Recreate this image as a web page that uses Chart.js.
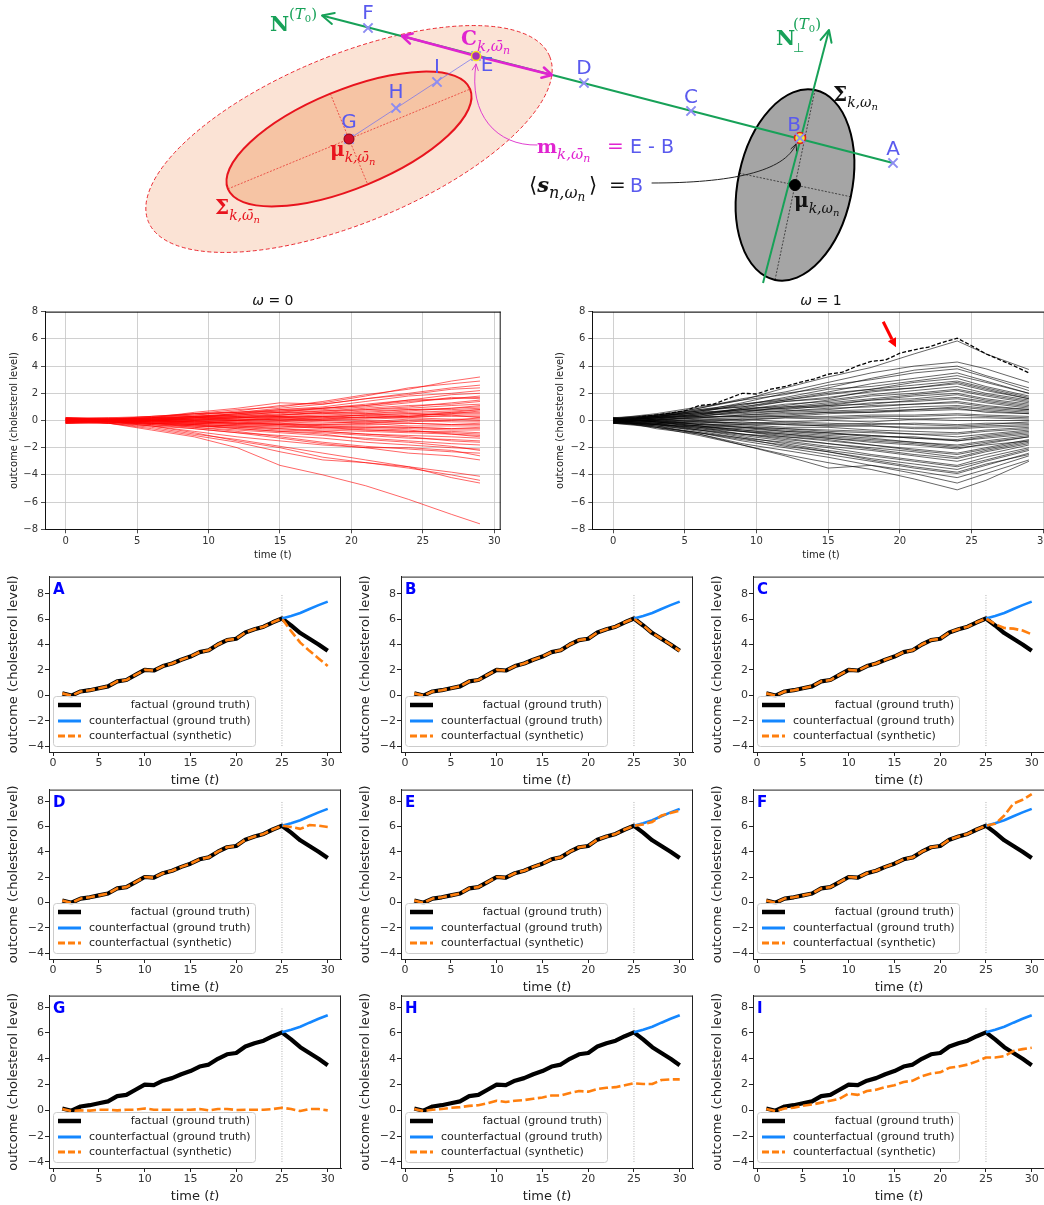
<!DOCTYPE html>
<html>
<head>
<meta charset="utf-8">
<script src="https://cdn.jsdelivr.net/npm/chart.js@4.4.1/dist/chart.umd.min.js"></script>
<style>
  html, body { margin: 0; padding: 0; background: #fff; overflow: hidden; width: 1044px; height: 1205px; }
  canvas { position: absolute; }
</style>
</head>
<body>
<script>
// ---------- top diagram (coordinates in diagram units, y grows downwards) ----------
const pointNames = ['A', 'B', 'C', 'D', 'E', 'F', 'G', 'H', 'I'];
const pointX = [893, 800, 691, 584, 476, 368, 349, 396, 437];
const pointY = [163, 138, 111, 83, 56, 28, 139, 108, 82];
const muX = [795];
const muY = [185];

const ellipseCx = [349, 349, 795];
const ellipseCy = [139, 139, 185];
const ellipseA = [217, 131, 97];
const ellipseB = [84, 49, 57];
const ellipseAngle = [-22.4, -22.4, -78.1];

const nLineX = [322, 893];
const nLineY = [15.5, 163];
const perpLineX = [763, 829];
const perpLineY = [283, 30];
const mArrowX = [402, 476, 552];
const mArrowY = [36, 56, 75];

// ---------- middle plots ----------
const midXTicks = [0, 5, 10, 15, 20, 25, 30];
const midYTicks = [-8, -6, -4, -2, 0, 2, 4, 6, 8];

const redT = [0, 3, 6, 9, 12, 15, 18, 21, 24, 27, 29];
const redLines = [
  [0.05, 0.1, 0.3, 0.5, 0.8, 1.0, 1.4, 1.9, 2.3, 2.9, 3.2],
  [-0.1, 0.05, 0.2, 0.4, 0.7, 1.1, 1.3, 1.8, 2.4, 2.7, 2.9],
  [0.15, 0.1, 0.2, 0.6, 0.9, 1.3, 1.2, 1.6, 2.0, 2.4, 2.6],
  [0.0, -0.05, 0.1, 0.3, 0.5, 0.8, 1.0, 1.4, 1.8, 2.0, 2.2],
  [-0.15, 0.1, 0.15, 0.3, 0.4, 0.6, 0.9, 1.1, 1.5, 1.6, 1.8],
  [0.2, 0.05, 0.2, 0.2, 0.5, 0.7, 0.8, 1.0, 1.3, 1.7, 1.6],
  [-0.05, 0.0, 0.1, 0.3, 0.3, 0.5, 0.7, 0.9, 1.1, 1.2, 1.4],
  [0.1, 0.1, 0.0, 0.2, 0.4, 0.4, 0.6, 0.8, 0.9, 1.1, 1.2],
  [-0.2, -0.1, 0.1, 0.2, 0.2, 0.4, 0.5, 0.6, 0.8, 0.9, 1.0],
  [0.1, 0.05, 0.2, 0.3, 0.5, 0.6, 0.5, 0.7, 0.8, 0.8, 0.9],
  [-0.1, 0.0, 0.05, 0.1, 0.2, 0.3, 0.4, 0.5, 0.6, 0.7, 0.8],
  [0.2, 0.1, 0.1, 0.0, 0.2, 0.3, 0.3, 0.4, 0.5, 0.6, 0.6],
  [0.0, -0.05, 0.0, 0.1, 0.1, 0.2, 0.3, 0.2, 0.4, 0.5, 0.5],
  [-0.15, 0.05, 0.1, 0.2, 0.3, 0.2, 0.3, 0.4, 0.5, 0.4, 0.4],
  [0.1, 0.0, -0.05, 0.0, 0.1, 0.1, 0.2, 0.2, 0.3, 0.3, 0.3],
  [-0.05, 0.05, 0.0, 0.05, 0.0, 0.1, 0.0, 0.1, 0.2, 0.1, 0.1],
  [0.15, -0.05, 0.05, -0.1, 0.0, -0.1, 0.1, 0.0, -0.1, 0.05, 0.0],
  [-0.1, 0.0, -0.1, 0.0, -0.1, 0.0, -0.1, -0.2, 0.0, -0.1, -0.1],
  [0.05, -0.1, 0.0, -0.1, -0.2, -0.1, -0.2, -0.1, -0.2, -0.3, -0.2],
  [-0.2, 0.0, -0.1, -0.2, -0.1, -0.3, -0.3, -0.2, -0.4, -0.4, -0.4],
  [0.1, -0.05, -0.1, -0.1, -0.2, -0.2, -0.4, -0.4, -0.5, -0.6, -0.5],
  [-0.05, 0.05, 0.0, -0.2, -0.3, -0.3, -0.4, -0.5, -0.5, -0.6, -0.6],
  [0.2, -0.1, -0.2, -0.2, -0.3, -0.4, -0.5, -0.5, -0.6, -0.7, -0.7],
  [-0.1, 0.0, -0.1, -0.3, -0.4, -0.4, -0.6, -0.7, -0.8, -0.8, -0.9],
  [0.05, -0.1, -0.2, -0.3, -0.4, -0.6, -0.7, -0.8, -0.9, -1.0, -1.1],
  [-0.15, 0.0, -0.2, -0.4, -0.5, -0.6, -0.8, -1.0, -1.1, -1.2, -1.3],
  [0.1, -0.1, -0.3, -0.4, -0.6, -0.8, -0.9, -1.1, -1.3, -1.4, -1.5],
  [0.0, -0.1, -0.2, -0.5, -0.7, -0.9, -1.1, -1.3, -1.5, -1.7, -1.8],
  [-0.2, -0.05, -0.3, -0.6, -0.9, -1.1, -1.3, -1.6, -1.8, -2.0, -2.1],
  [0.15, -0.1, -0.3, -0.5, -0.8, -1.2, -1.6, -1.9, -2.1, -2.3, -2.4],
  [-0.05, -0.1, -0.4, -0.8, -1.2, -1.5, -1.8, -2.0, -2.4, -2.6, -2.9],
  [0.1, -0.2, -0.5, -1.0, -1.4, -1.9, -2.4, -2.9, -3.4, -3.8, -4.1],
  [-0.1, -0.1, -0.4, -0.9, -1.5, -2.0, -2.7, -3.1, -3.5, -4.0, -4.4],
  [0.05, -0.2, -0.6, -1.1, -1.6, -2.3, -2.9, -3.1, -3.4, -4.2, -4.6],
  [0.0, -0.2, -0.7, -1.2, -2.0, -3.3, -4.0, -4.8, -5.8, -6.9, -7.6],
  [0.1, 0.15, 0.2, 0.3, 0.4, 0.6, 0.7, 0.8, 1.0, 1.3, 1.5],
  [-0.1, 0.0, 0.1, 0.1, 0.3, 0.4, 0.6, 0.5, 0.7, 0.9, 1.1],
  [0.2, 0.1, 0.0, 0.2, 0.2, 0.3, 0.2, 0.4, 0.3, 0.5, 0.7],
  [-0.2, -0.1, 0.0, 0.1, 0.0, 0.2, 0.1, 0.3, 0.2, 0.4, 0.2],
  [0.15, 0.0, -0.1, -0.1, -0.2, -0.2, -0.3, -0.3, -0.2, -0.3, -0.3],
  [-0.15, -0.2, -0.2, -0.3, -0.4, -0.5, -0.5, -0.7, -0.8, -0.9, -1.0],
  [0.05, 0.1, -0.1, -0.2, -0.2, -0.3, -0.5, -0.6, -0.7, -1.0, -1.2],
  [0.0, -0.1, -0.2, -0.4, -0.5, -0.7, -0.8, -1.0, -1.2, -1.5, -1.6],
  [0.2, 0.2, 0.3, 0.4, 0.6, 0.8, 0.9, 1.1, 1.4, 1.6, 1.7],
  [-0.05, 0.1, 0.2, 0.5, 0.6, 0.7, 0.9, 1.2, 1.5, 1.9, 2.0],
  [0.1, 0.0, -0.2, -0.3, -0.6, -0.8, -1.0, -1.4, -1.6, -1.9, -2.2],
  [-0.2, -0.2, -0.4, -0.6, -0.9, -1.3, -1.7, -2.0, -2.0, -2.2, -2.6],
  [0.05, 0.1, 0.3, 0.5, 0.6, 0.9, 1.2, 1.6, 1.9, 2.3, 2.4],
  [-0.1, 0.0, 0.0, -0.1, 0.0, 0.1, 0.0, -0.1, 0.1, 0.0, 0.2],
  [0.1, 0.2, 0.1, 0.2, 0.1, 0.0, 0.1, 0.2, 0.3, 0.6, 0.8]
];

const blackT = [0, 3, 6, 9, 12, 15, 18, 21, 24, 26, 29];
const blackLines = [
  [0, 0.3, 0.9, 1.5, 2.4, 3.2, 3.9, 4.9, 5.85, 4.9, 3.75],
  [0.1, 0.4, 0.9, 1.6, 2.1, 2.8, 3.5, 4.0, 4.3, 3.8, 2.8],
  [-0.1, 0.3, 0.7, 1.3, 2.0, 2.4, 3.1, 3.7, 4.0, 3.3, 2.4],
  [0.15, 0.5, 1.0, 1.5, 1.9, 2.6, 3.0, 3.5, 3.8, 3.2, 2.2],
  [0, 0.3, 0.6, 1.2, 1.6, 2.1, 2.7, 3.1, 3.5, 2.9, 2.0],
  [-0.15, 0.4, 0.7, 1.1, 1.7, 2.3, 2.5, 2.9, 3.3, 2.8, 2.0],
  [0.05, 0.2, 0.8, 1.0, 1.5, 2.0, 2.3, 2.8, 3.1, 2.5, 1.8],
  [0.2, 0.4, 0.5, 0.9, 1.4, 1.6, 2.2, 2.4, 2.8, 2.3, 1.6],
  [-0.05, 0.2, 0.6, 0.8, 1.1, 1.5, 1.9, 2.2, 2.5, 2.0, 1.5],
  [0.1, 0.3, 0.4, 0.9, 1.0, 1.3, 1.6, 1.9, 2.2, 1.8, 1.3],
  [-0.2, 0.1, 0.5, 0.6, 1.0, 1.1, 1.5, 1.8, 2.0, 1.6, 1.2],
  [0, 0.2, 0.4, 0.8, 0.9, 1.2, 1.5, 1.6, 1.9, 1.5, 1.1],
  [0.15, 0.3, 0.3, 0.7, 0.8, 1.1, 1.2, 1.5, 1.7, 1.4, 1.0],
  [-0.1, 0.1, 0.4, 0.5, 0.7, 0.8, 1.1, 1.2, 1.4, 1.1, 0.8],
  [0.05, 0.2, 0.2, 0.4, 0.6, 0.7, 0.8, 1.0, 1.1, 0.9, 0.7],
  [-0.15, 0.1, 0.2, 0.4, 0.5, 0.6, 0.7, 0.8, 0.9, 0.6, 0.5],
  [0.1, 0.0, 0.3, 0.3, 0.3, 0.5, 0.6, 0.7, 0.8, 0.7, 0.5],
  [0, 0.2, 0.1, 0.2, 0.3, 0.3, 0.4, 0.4, 0.5, 0.4, 0.3],
  [0.2, -0.1, 0.1, 0.0, 0.2, 0.1, 0.2, 0.1, 0.2, 0.2, 0.1],
  [-0.05, 0.1, -0.1, 0.1, -0.1, 0.0, -0.1, 0.1, 0.0, 0.0, 0.0],
  [0.1, -0.1, 0.0, -0.2, -0.1, -0.2, -0.3, -0.2, -0.3, -0.2, -0.2],
  [-0.2, -0.2, -0.1, -0.3, -0.3, -0.4, -0.4, -0.6, -0.6, -0.5, -0.4],
  [0, 0.0, -0.3, -0.3, -0.5, -0.5, -0.7, -0.8, -0.9, -0.7, -0.5],
  [0.15, -0.1, -0.3, -0.4, -0.6, -0.7, -0.8, -1.0, -1.0, -0.8, -0.6],
  [-0.1, -0.2, -0.2, -0.5, -0.6, -0.8, -0.9, -1.0, -1.2, -1.0, -0.7],
  [0.05, -0.1, -0.4, -0.5, -0.8, -0.9, -1.1, -1.3, -1.5, -1.2, -0.9],
  [-0.15, -0.3, -0.4, -0.7, -0.9, -1.1, -1.3, -1.6, -1.8, -1.5, -1.1],
  [0.1, -0.1, -0.4, -0.7, -1.0, -1.3, -1.5, -1.7, -2.0, -1.8, -1.5],
  [0, -0.2, -0.6, -0.8, -1.1, -1.3, -1.6, -1.8, -2.1, -1.7, -1.2],
  [-0.05, -0.3, -0.5, -1.0, -1.2, -1.4, -1.8, -2.1, -2.4, -2.0, -1.4],
  [0.2, -0.2, -0.7, -1.0, -1.4, -1.7, -2.0, -2.3, -2.7, -2.2, -1.6],
  [-0.1, -0.4, -0.7, -1.1, -1.5, -1.9, -2.2, -2.6, -3.0, -2.5, -1.8],
  [0.05, -0.3, -0.8, -1.3, -1.6, -2.0, -2.5, -2.9, -3.3, -2.7, -2.0],
  [-0.2, -0.4, -0.9, -1.4, -1.8, -2.3, -2.8, -3.2, -3.6, -3.0, -2.2],
  [0.1, -0.5, -0.9, -1.5, -2.0, -2.5, -3.0, -3.5, -3.9, -3.3, -2.4],
  [0, -0.4, -1.0, -1.7, -2.2, -2.7, -3.3, -3.7, -4.2, -3.6, -2.6],
  [-0.1, -0.5, -1.1, -1.8, -2.6, -3.5, -3.3, -3.9, -4.6, -3.9, -2.9],
  [0.05, -0.6, -1.0, -1.8, -2.5, -3.1, -3.6, -4.3, -5.1, -4.4, -3.0],
  [0.1, 0.4, 0.8, 1.2, 1.5, 1.9, 2.3, 2.6, 2.9, 2.4, 1.7],
  [-0.1, 0.2, 0.5, 0.8, 1.2, 1.4, 1.8, 2.0, 2.3, 1.9, 1.4],
  [0.15, 0.3, 0.6, 0.7, 0.9, 1.0, 1.3, 1.4, 1.6, 1.3, 0.9],
  [-0.15, 0.0, 0.2, 0.3, 0.4, 0.6, 0.6, 0.8, 1.0, 0.8, 0.6],
  [0.05, 0.1, 0.0, 0.1, 0.2, 0.2, 0.3, 0.3, 0.4, 0.3, 0.2],
  [0.1, -0.1, -0.2, -0.1, -0.3, -0.4, -0.4, -0.5, -0.5, -0.4, -0.3],
  [-0.2, -0.3, -0.5, -0.6, -0.8, -1.0, -1.1, -1.3, -1.4, -1.1, -0.8],
  [0.0, -0.2, -0.4, -0.8, -1.0, -1.2, -1.4, -1.6, -1.9, -1.6, -1.2],
  [0.2, -0.1, -0.5, -0.8, -1.2, -1.5, -1.8, -2.2, -2.5, -2.1, -1.5],
  [-0.1, -0.3, -0.6, -1.0, -1.3, -1.7, -2.1, -2.5, -2.8, -2.3, -1.7],
  [0.1, -0.3, -0.7, -1.2, -1.7, -2.2, -2.6, -3.0, -3.4, -2.9, -2.1],
  [-0.2, -0.5, -0.9, -1.3, -1.9, -2.3, -2.9, -3.4, -3.8, -3.2, -2.5],
  [0.0, 0.3, 0.7, 1.0, 1.4, 1.7, 2.1, 2.4, 2.7, 2.2, 1.6],
  [0.1, 0.2, 0.3, 0.6, 0.7, 0.9, 1.0, 1.2, 1.3, 1.0, 0.8],
  [-0.05, 0.0, -0.1, -0.2, -0.2, -0.3, -0.2, -0.3, -0.4, -0.3, -0.1],
  [0.15, 0.1, -0.3, -0.5, -0.7, -0.9, -1.2, -1.2, -1.5, -1.3, -1.0]
];
const arrowX = [18.84, 19.73];
const arrowY = [7.26, 5.38];

// ---------- small panels ----------
const panelLetters = ['A', 'B', 'C', 'D', 'E', 'F', 'G', 'H', 'I'];
const smallXTicks = [0, 5, 10, 15, 20, 25, 30];
const smallYTicks = [-4, -2, 0, 2, 4, 6, 8];
const smallT = [1, 2, 3, 4, 5, 6, 7, 8, 9, 10, 11, 12, 13, 14, 15, 16, 17, 18, 19, 20, 21, 22, 23, 24, 25, 26, 27, 28, 29, 30];
const factual = [0.15, -0.03, 0.3, 0.4, 0.55, 0.7, 1.1, 1.2, 1.6, 2.0, 1.95, 2.3, 2.5, 2.8, 3.05, 3.4, 3.55, 4.0, 4.35, 4.45, 4.95, 5.2, 5.4, 5.75, 6.05, 5.5, 4.9, 4.45, 4.0, 3.5];
const cfT = [25, 26, 27, 28, 29, 30];
const cfTrue = [6.05, 6.25, 6.48, 6.8, 7.1, 7.38];
const synthTailA = [6.05, 5.05, 4.15, 3.5, 2.9, 2.3];
const synthTailB = [6.05, 5.5, 4.9, 4.45, 4.0, 3.5];
const synthTailC = [6.05, 5.6, 5.3, 5.25, 5.1, 4.8];
const synthTailD = [6.05, 5.95, 5.8, 6.1, 6.05, 5.95];
const synthTailE = [6.05, 6.15, 6.35, 6.85, 7.05, 7.25];
const synthTailF = [6.05, 6.2, 6.85, 7.8, 8.1, 8.55];
const synthG = [0.1, -0.05, 0.0, -0.02, 0.05, 0.05, 0.0, 0.05, 0.05, 0.15, 0.05, 0.05, 0.05, 0.05, 0.05, 0.1, 0.0, 0.1, 0.1, 0.03, 0.05, 0.05, 0.05, 0.1, 0.2, 0.1, -0.05, 0.1, 0.1, 0.0];
const synthH = [0.1, -0.05, 0.05, 0.1, 0.2, 0.25, 0.35, 0.4, 0.55, 0.75, 0.65, 0.75, 0.8, 0.9, 1.0, 1.15, 1.15, 1.35, 1.5, 1.45, 1.65, 1.75, 1.8, 1.95, 2.1, 2.05, 2.05, 2.35, 2.4, 2.4];
const synthI = [0.1, -0.05, 0.15, 0.2, 0.35, 0.45, 0.6, 0.75, 0.9, 1.3, 1.2, 1.5, 1.6, 1.8, 1.95, 2.2, 2.3, 2.65, 2.85, 2.95, 3.3, 3.4, 3.55, 3.8, 4.1, 4.1, 4.2, 4.6, 4.75, 4.85];
const vlineX = [25, 25];
const vlineY = [-4, 8];

// ---------- colours ----------
const GREEN = '#17a158';
const MAGENTA = '#e024d0';
const LBLUE = '#5a5aee';
const RED = '#e8141e';
const CF_BLUE = '#1487ff';
const ORANGE = '#ff7f0e';

Chart.defaults.font.family = 'DejaVu Sans';
Chart.defaults.animation = false;
Chart.defaults.events = [];
Chart.defaults.layout.autoPadding = false;
Chart.defaults.plugins.legend.display = false;
Chart.defaults.plugins.tooltip.enabled = false;

function makeCanvas(left, top, w, h) {
  const c = document.createElement('canvas');
  c.width = w; c.height = h;
  c.style.left = left + 'px'; c.style.top = top + 'px';
  c.style.width = w + 'px'; c.style.height = h + 'px';
  document.body.appendChild(c);
  return c;
}

const xy = (xs, ys) => xs.map((v, i) => ({ x: v, y: ys[i] }));
const minus = v => (v < 0 ? '\u2212' + Math.abs(v) : '' + v);

function drawRuns(ctx, x, y, runs, align) {
  let total = 0;
  runs.forEach(r => { ctx.font = r[1]; total += ctx.measureText(r[0]).width; });
  if (align === 'center') x -= total / 2;
  runs.forEach(r => {
    ctx.font = r[1];
    ctx.fillStyle = r[2];
    ctx.fillText(r[0], x, y + (r[3] || 0));
    x += ctx.measureText(r[0]).width;
  });
}

function openHead(ctx, fx, fy, tx, ty, len, spread) {
  const ang = Math.atan2(ty - fy, tx - fx);
  ctx.beginPath();
  ctx.moveTo(tx - len * Math.cos(ang - spread), ty - len * Math.sin(ang - spread));
  ctx.lineTo(tx, ty);
  ctx.lineTo(tx - len * Math.cos(ang + spread), ty - len * Math.sin(ang + spread));
  ctx.stroke();
}

// ================= diagram =================
const diagramPlugin = {
  id: 'diagram',
  beforeDatasetsDraw(chart) {
    const { ctx, scales: { x, y } } = chart;
    const u = x.getPixelForValue(1) - x.getPixelForValue(0);
    const fills = ['#fbe3d5', '#f6c4a4', '#a5a5a5'];
    const strokes = [RED, RED, '#000'];
    const widths = [0.9, 2, 2];
    const dashes = [[4, 2.5], [], []];
    const axisColors = [null, 'rgba(230,30,30,0.85)', 'rgba(0,0,0,0.75)'];
    ellipseCx.forEach((cx, i) => {
      const px = x.getPixelForValue(cx), py = y.getPixelForValue(ellipseCy[i]);
      const rot = ellipseAngle[i] * Math.PI / 180;
      const a = ellipseA[i] * u, b = ellipseB[i] * u;
      ctx.save();
      ctx.beginPath();
      ctx.ellipse(px, py, a, b, rot, 0, 2 * Math.PI);
      ctx.fillStyle = fills[i];
      ctx.fill();
      ctx.setLineDash(dashes[i]);
      ctx.lineWidth = widths[i];
      ctx.strokeStyle = strokes[i];
      ctx.stroke();
      if (axisColors[i]) {
        ctx.setLineDash([2, 1.5]);
        ctx.lineWidth = 0.8;
        ctx.strokeStyle = axisColors[i];
        ctx.beginPath();
        ctx.moveTo(px - a * Math.cos(rot), py - a * Math.sin(rot));
        ctx.lineTo(px + a * Math.cos(rot), py + a * Math.sin(rot));
        ctx.moveTo(px + b * Math.sin(rot), py - b * Math.cos(rot));
        ctx.lineTo(px - b * Math.sin(rot), py + b * Math.cos(rot));
        ctx.stroke();
      }
      ctx.restore();
    });
  },
  afterDatasetsDraw(chart) {
    const { ctx, scales: { x, y } } = chart;
    const P = (vx, vy) => [x.getPixelForValue(vx), y.getPixelForValue(vy)];
    ctx.save();
    ctx.lineCap = 'round';
    ctx.lineJoin = 'round';

    // arrow heads
    ctx.strokeStyle = GREEN; ctx.lineWidth = 2;
    let a = P(nLineX[1], nLineY[1]), b = P(nLineX[0], nLineY[0]);
    openHead(ctx, a[0], a[1], b[0], b[1], 13, 0.45);
    a = P(perpLineX[0], perpLineY[0]); b = P(perpLineX[1], perpLineY[1]);
    openHead(ctx, a[0], a[1], b[0], b[1], 13, 0.45);
    ctx.strokeStyle = MAGENTA; ctx.lineWidth = 2.5;
    a = P(mArrowX[1], mArrowY[1]); b = P(mArrowX[0], mArrowY[0]);
    openHead(ctx, a[0], a[1], b[0], b[1], 11, 0.5);
    b = P(mArrowX[2], mArrowY[2]);
    openHead(ctx, a[0], a[1], b[0], b[1], 11, 0.5);

    // thin curved pointers
    ctx.lineWidth = 1;
    ctx.strokeStyle = '#e040d0';
    ctx.beginPath();
    ctx.moveTo(537, 145);
    ctx.bezierCurveTo(497, 146, 468, 115, 476, 64);
    ctx.stroke();
    openHead(ctx, 473, 90, 476, 64, 7, 0.45);
    ctx.strokeStyle = '#222';
    ctx.beginPath();
    ctx.moveTo(652, 183);
    ctx.bezierCurveTo(730, 183, 785, 172, 796, 144);
    ctx.stroke();
    openHead(ctx, 790, 160, 796, 144, 7, 0.45);

    // point letters
    const off = { A: [0, -13], B: [-6, -12], C: [0, -13], D: [0, -14], E: [11, 10], F: [0, -14], G: [0, -16], H: [0, -15], I: [0, -14] };
    ctx.font = '20px DejaVu Sans';
    ctx.fillStyle = LBLUE;
    ctx.textAlign = 'center';
    ctx.textBaseline = 'middle';
    pointNames.forEach((n, i) => {
      const p = P(pointX[i], pointY[i]);
      ctx.fillText(n, p[0] + off[n][0], p[1] + off[n][1]);
    });

    // math labels
    ctx.textAlign = 'left';
    ctx.textBaseline = 'alphabetic';
    const SB = 'bold 20px DejaVu Serif';
    const SI = 'italic 14px DejaVu Serif';
    const SS = 'italic 10px DejaVu Serif';
    const SUP = '15px DejaVu Serif';
    drawRuns(ctx, 270, 31, [['N', 'bold 21px DejaVu Serif', GREEN]]);
    drawRuns(ctx, 289, 19, [['(', SUP, GREEN], ['T', 'italic 15px DejaVu Serif', GREEN], ['0', '10px DejaVu Serif', GREEN, 3], [')', SUP, GREEN]]);
    drawRuns(ctx, 776, 45, [['N', 'bold 21px DejaVu Serif', GREEN]]);
    drawRuns(ctx, 793, 52, [['\u22A5', '13px DejaVu Sans', GREEN]]);
    drawRuns(ctx, 793, 29, [['(', SUP, GREEN], ['T', 'italic 15px DejaVu Serif', GREEN], ['0', '10px DejaVu Serif', GREEN, 3], [')', SUP, GREEN]]);

    drawRuns(ctx, 461, 45, [['C', SB, MAGENTA], ['k,\u03C9\u0304', 'italic 15px DejaVu Serif', MAGENTA, 6], ['n', 'italic 11px DejaVu Serif', MAGENTA, 9]]);
    drawRuns(ctx, 537, 153, [['m', 'bold 19px DejaVu Serif', MAGENTA], ['k,\u03C9\u0304', 'italic 15px DejaVu Serif', MAGENTA, 6], ['n', 'italic 11px DejaVu Serif', MAGENTA, 9]]);
    drawRuns(ctx, 607, 153, [['=', '20px DejaVu Serif', MAGENTA]]);
    drawRuns(ctx, 630, 153, [['E - B', '19px DejaVu Sans', LBLUE]]);

    drawRuns(ctx, 529, 192, [['\u27E8', '21px DejaVu Sans', '#111'], ['s', 'bold italic 21px DejaVu Serif', '#111'], ['n,\u03C9', 'italic 16px DejaVu Serif', '#111', 6], ['n', 'italic 12px DejaVu Serif', '#111', 9]]);
    drawRuns(ctx, 589, 192, [['\u27E9', '21px DejaVu Sans', '#111']]);
    drawRuns(ctx, 609, 192, [['=', '20px DejaVu Serif', '#111']]);
    drawRuns(ctx, 630, 192, [['B', '19px DejaVu Sans', LBLUE]]);

    drawRuns(ctx, 833, 101, [['\u03A3', SB, '#111'], ['k,\u03C9', SI, '#111', 6], ['n', SS, '#111', 9]]);
    drawRuns(ctx, 794, 207, [['\u03BC', SB, '#111'], ['k,\u03C9', SI, '#111', 6], ['n', SS, '#111', 9]]);
    drawRuns(ctx, 330, 156, [['\u03BC', SB, RED], ['k,\u03C9\u0304', SI, RED, 6], ['n', SS, RED, 9]]);
    drawRuns(ctx, 215, 214, [['\u03A3', SB, RED], ['k,\u03C9\u0304', SI, RED, 6], ['n', SS, RED, 9]]);
    ctx.restore();
  }
};

const idx = n => pointNames.indexOf(n);
new Chart(makeCanvas(0, 0, 1044, 290), {
  type: 'scatter',
  data: {
    datasets: [
      { data: [{ x: pointX[idx('G')], y: pointY[idx('G')] }], pointRadius: 5, backgroundColor: '#d4102c', borderColor: '#8a0010', borderWidth: 1 },
      { data: [{ x: pointX[idx('E')], y: pointY[idx('E')] }], pointRadius: 4.5, backgroundColor: '#a431b8', borderColor: '#f2e21a', borderWidth: 1.5 },
      { data: xy(pointX, pointY), pointStyle: 'crossRot', pointRadius: 6.5, borderColor: '#8c8cf2', borderWidth: 2 },
      { data: [{ x: pointX[idx('B')], y: pointY[idx('B')] }], pointRadius: 5.5, backgroundColor: '#f2e43a', borderColor: '#e0201a', borderWidth: 1.5 },
      { data: xy(muX, muY), pointRadius: 5.5, backgroundColor: '#000', borderColor: '#000' },
      { data: xy(mArrowX, mArrowY), showLine: true, pointRadius: 0, borderColor: MAGENTA, borderWidth: 2.5 },
      { data: xy(nLineX, nLineY), showLine: true, pointRadius: 0, borderColor: GREEN, borderWidth: 2 },
      { data: xy(perpLineX, perpLineY), showLine: true, pointRadius: 0, borderColor: GREEN, borderWidth: 2 },
      { data: xy([pointX[idx('G')], pointX[idx('E')]], [pointY[idx('G')], pointY[idx('E')]]), showLine: true, pointRadius: 0, borderColor: 'rgba(110,110,240,0.7)', borderWidth: 1 }
    ]
  },
  options: {
    responsive: false,
    devicePixelRatio: 1,
    layout: { padding: 0, autoPadding: false },
    scales: {
      x: { type: 'linear', min: 0, max: 1044, display: false },
      y: { type: 'linear', min: 0, max: 290, reverse: true, display: false }
    }
  },
  plugins: [diagramPlugin]
});

// ================= middle plots =================
const framePlugin = {
  id: 'frame',
  afterDraw(chart) {
    const { ctx, chartArea: ca } = chart;
    ctx.save();
    ctx.strokeStyle = '#111';
    ctx.lineWidth = 1;
    ctx.beginPath();
    ctx.moveTo(ca.left, ca.top + 0.5); ctx.lineTo(ca.right, ca.top + 0.5);
    ctx.moveTo(ca.right - 0.5, ca.top); ctx.lineTo(ca.right - 0.5, ca.bottom);
    ctx.stroke();
    ctx.restore();
  }
};

function titlePlugin(val) {
  return {
    id: 'omegaTitle',
    afterDraw(chart) {
      const { ctx, chartArea: ca } = chart;
      ctx.save();
      ctx.textBaseline = 'middle';
      drawRuns(ctx, (ca.left + ca.right) / 2, 11, [['\u03C9', 'italic 14px DejaVu Sans', '#111'], [' = ' + val, '14px DejaVu Sans', '#111']], 'center');
      ctx.restore();
    }
  };
}

const redArrowPlugin = {
  id: 'redArrow',
  afterDatasetsDraw(chart) {
    const { ctx, scales: { x, y } } = chart;
    const x0 = x.getPixelForValue(arrowX[0]), y0 = y.getPixelForValue(arrowY[0]);
    const x1 = x.getPixelForValue(arrowX[1]), y1 = y.getPixelForValue(arrowY[1]);
    const ang = Math.atan2(y1 - y0, x1 - x0);
    const hl = 9, hw = 4.5;
    const bx = x1 - hl * Math.cos(ang), by = y1 - hl * Math.sin(ang);
    ctx.save();
    ctx.strokeStyle = '#f00'; ctx.fillStyle = '#f00'; ctx.lineWidth = 3;
    ctx.beginPath(); ctx.moveTo(x0, y0); ctx.lineTo(bx, by); ctx.stroke();
    ctx.beginPath();
    ctx.moveTo(x1, y1);
    ctx.lineTo(bx + hw * Math.sin(ang), by - hw * Math.cos(ang));
    ctx.lineTo(bx - hw * Math.sin(ang), by + hw * Math.cos(ang));
    ctx.closePath(); ctx.fill();
    ctx.restore();
  }
};

function midChart(left, width, yAxisW, titlePad, padRight, datasets, val, extra) {
  const cv = makeCanvas(left, 290, width, 280);
  new Chart(cv, {
    type: 'scatter',
    data: { datasets },
    options: {
      responsive: false,
      devicePixelRatio: 1,
      layout: { padding: { left: 0, top: 21.7, right: padRight, bottom: 0 } },
      elements: { point: { radius: 0 }, line: { tension: 0 } },
      scales: {
        x: {
          type: 'linear', min: -1.45, max: 30.45,
          afterBuildTicks: s => { s.ticks = midXTicks.map(v => ({ value: v })); },
          afterFit: s => { s.height = 40.7; },
          grid: { color: '#c4c4c4', lineWidth: 0.8, tickLength: 4, tickColor: '#222' },
          border: { color: '#111', width: 1 },
          ticks: { font: { size: 10 }, color: '#333', padding: 2, maxRotation: 0, autoSkip: false, callback: minus },
          title: { display: true, text: 'time (t)', font: { size: 10, lineHeight: 1.2 }, color: '#222', padding: { top: 0, bottom: 9 } }
        },
        y: {
          type: 'linear', min: -8, max: 8,
          afterBuildTicks: s => { s.ticks = midYTicks.map(v => ({ value: v })); },
          afterFit: s => { s.width = yAxisW; },
          grid: { color: '#c4c4c4', lineWidth: 0.8, tickLength: 4, tickColor: '#222' },
          border: { color: '#111', width: 1 },
          ticks: { font: { size: 10 }, color: '#333', padding: 3, autoSkip: false, callback: minus },
          title: { display: true, text: 'outcome (cholesterol level)', font: { size: 10, lineHeight: 1.2 }, color: '#222', padding: { top: titlePad, bottom: 0 } }
        }
      }
    },
    plugins: [framePlugin, titlePlugin(val)].concat(extra)
  });
}

const redSets = redLines.map(l => ({ data: xy(redT, l), showLine: true, borderColor: 'rgba(255,0,0,0.6)', borderWidth: 1 }));
midChart(0, 520, 45, 8, 19.3, redSets, '0', []);

const blackSets = [{ data: xy(smallT.map(t => t - 1), factual), showLine: true, borderColor: '#000', borderWidth: 1.3, borderDash: [4, 2] }]
  .concat(blackLines.map(l => ({ data: xy(blackT, l), showLine: true, borderColor: 'rgba(0,0,0,0.6)', borderWidth: 1 })));
midChart(540, 525, 52.3, 14.7, 15.3, blackSets, '1', [redArrowPlugin]);

// ================= small panels =================
const colLeft = [49, 401, 753];
const rowTop = [575, 788, 994];
const rowH = [177, 171, 174];
const rowYMax = [9.35, 8.9, 8.9];
const AXW = 292;

const synthPanels = [
  factual.slice(0, 24).concat(synthTailA),
  factual.slice(0, 24).concat(synthTailB),
  factual.slice(0, 24).concat(synthTailC),
  factual.slice(0, 24).concat(synthTailD),
  factual.slice(0, 24).concat(synthTailE),
  factual.slice(0, 24).concat(synthTailF),
  synthG, synthH, synthI
];

function panelPlugin(letter) {
  return {
    id: 'panel',
    afterDraw(chart) {
      const { ctx, chartArea: ca } = chart;
      ctx.save();
      // top/right spines
      ctx.strokeStyle = '#222'; ctx.lineWidth = 1;
      ctx.beginPath();
      ctx.moveTo(ca.left, ca.top + 0.5); ctx.lineTo(ca.right, ca.top + 0.5);
      ctx.moveTo(ca.right - 0.5, ca.top); ctx.lineTo(ca.right - 0.5, ca.bottom);
      ctx.stroke();
      // letter
      ctx.font = 'bold 15px DejaVu Sans';
      ctx.fillStyle = '#0000ff';
      ctx.textBaseline = 'middle';
      ctx.fillText(letter, ca.left + 4, ca.top + 14);
      // legend
      const bx = ca.left + 4.5, by = ca.bottom - 55.5, bw = 202, bh = 50;
      ctx.beginPath();
      ctx.roundRect(bx, by, bw, bh, 3);
      ctx.fillStyle = 'rgba(255,255,255,0.8)';
      ctx.fill();
      ctx.strokeStyle = '#cccccc'; ctx.lineWidth = 1;
      ctx.stroke();
      const rows = [ca.bottom - 47, ca.bottom - 31, ca.bottom - 16];
      const hx0 = ca.left + 9, hx1 = ca.left + 32;
      ctx.lineCap = 'butt';
      ctx.strokeStyle = '#000'; ctx.lineWidth = 4.5;
      ctx.beginPath(); ctx.moveTo(hx0, rows[0]); ctx.lineTo(hx1, rows[0]); ctx.stroke();
      ctx.strokeStyle = CF_BLUE; ctx.lineWidth = 3;
      ctx.beginPath(); ctx.moveTo(hx0, rows[1]); ctx.lineTo(hx1, rows[1]); ctx.stroke();
      ctx.strokeStyle = ORANGE; ctx.setLineDash([7, 3]);
      ctx.beginPath(); ctx.moveTo(hx0, rows[2]); ctx.lineTo(hx1, rows[2]); ctx.stroke();
      ctx.setLineDash([]);
      ctx.font = '11px DejaVu Sans';
      ctx.fillStyle = '#222';
      ctx.textAlign = 'right';
      ctx.fillText('factual (ground truth)', ca.left + 201, rows[0]);
      ctx.textAlign = 'left';
      ctx.fillText('counterfactual (ground truth)', ca.left + 40, rows[1]);
      ctx.fillText('counterfactual (synthetic)', ca.left + 40, rows[2]);
      // x title with italic t
      ctx.textBaseline = 'middle';
      drawRuns(ctx, (ca.left + ca.right) / 2, ca.bottom + 29, [['time (', '13px DejaVu Sans', '#222'], ['t', 'italic 13px DejaVu Sans', '#222'], [')', '13px DejaVu Sans', '#222']], 'center');
      ctx.restore();
    }
  };
}

panelLetters.forEach((letter, i) => {
  const col = i % 3, row = Math.floor(i / 3);
  const axL = colLeft[col], axT = rowTop[row], axH = rowH[row];
  const cv = makeCanvas(axL - 49, axT - 6, 49 + AXW + 14, 6 + axH + 38);
  new Chart(cv, {
    type: 'scatter',
    data: {
      datasets: [
        { data: xy(smallT, synthPanels[i]), showLine: true, borderColor: ORANGE, borderWidth: 2.6, borderDash: [9, 3.5] },
        { data: xy(cfT, cfTrue), showLine: true, borderColor: CF_BLUE, borderWidth: 2.6 },
        { data: xy(smallT, factual), showLine: true, borderColor: '#000', borderWidth: 4.2 },
        { data: xy(vlineX, vlineY), showLine: true, borderColor: '#b0b0b0', borderWidth: 1, borderDash: [1, 1.5] }
      ]
    },
    options: {
      responsive: false,
      devicePixelRatio: 1,
      layout: { padding: { left: 0, top: 6, right: 14, bottom: 0 } },
      elements: { point: { radius: 0 }, line: { tension: 0, borderJoinStyle: 'round' } },
      scales: {
        x: {
          type: 'linear', min: -0.45, max: 31.45,
          afterBuildTicks: s => { s.ticks = smallXTicks.map(v => ({ value: v })); },
          afterFit: s => { s.height = 38; },
          grid: { drawOnChartArea: false, tickLength: 4, tickColor: '#222' },
          border: { color: '#222', width: 1 },
          ticks: { font: { size: 11 }, color: '#333', padding: 1, maxRotation: 0, autoSkip: false, callback: minus }
        },
        y: {
          type: 'linear', min: -4.47, max: rowYMax[row],
          afterBuildTicks: s => { s.ticks = smallYTicks.map(v => ({ value: v })); },
          afterFit: s => { s.width = 49; },
          grid: { drawOnChartArea: false, tickLength: 4, tickColor: '#222' },
          border: { color: '#222', width: 1 },
          ticks: { font: { size: 11 }, color: '#333', padding: 1, autoSkip: false, callback: minus },
          title: { display: true, text: 'outcome (cholesterol level)', font: { size: 13, lineHeight: 1.2 }, color: '#222', padding: { top: 6.2, bottom: 0 } }
        }
      }
    },
    plugins: [panelPlugin(letter)]
  });
});
</script>
</body>
</html>
